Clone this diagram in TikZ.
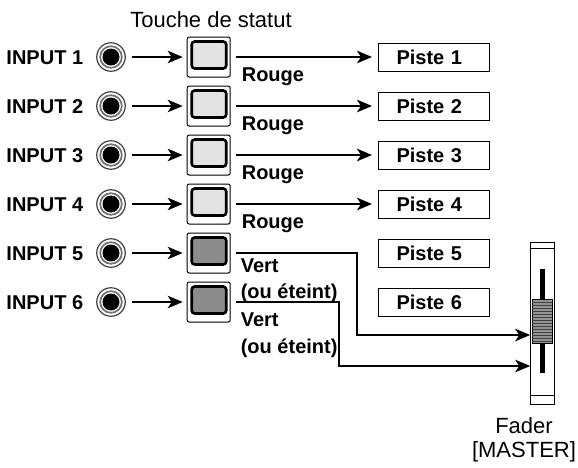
\documentclass[tikz,border=0pt]{standalone}
\usepackage{fontspec}
\setmainfont{Liberation Sans}
\usetikzlibrary{calc,arrows.meta,backgrounds}
\pgfdeclarelayer{foreground}
\pgfsetlayers{main,foreground}
\newcommand{\Lbl}{\bfseries\fontsize{20}{24}\selectfont}
\newcommand{\Txt}{\fontsize{22}{24}\selectfont}
\tikzset{Button/.style={
    rectangle, rounded corners=2pt,
    inner sep=0pt,
    minimum width=43pt,
    minimum height=40pt,
    draw=black, line width=1pt,
    fill=white,
 append after command={% <= the lamp inside
        \pgfextra{%
            \begin{pgfinterruptpath}\begin{pgfonlayer}{foreground}
            \draw[black, line width=2.6pt, rounded corners=3pt, fill=#1]
                ($(\tikzlastnode.north west)+(5pt,-5pt)$) rectangle
                ($(\tikzlastnode.north east)+(-4.5pt,-32pt)$);
            \end{pgfonlayer}\end{pgfinterruptpath}
        }
    }},
    Jack/.style={
    circle, inner sep=0pt,
    minimum size=28.5pt,
    draw=black!75, line width=1.2pt,
    fill=white,
 append after command={%
        \pgfextra{%
            \begin{pgfinterruptpath}\begin{pgfonlayer}{foreground}
            \draw[black!55, line width=1.7pt] (\tikzlastnode.center) circle (10.8pt);
            \fill[black] (\tikzlastnode.center) circle (8.5pt);
            \end{pgfonlayer}\end{pgfinterruptpath}
        }
    }}
}

\begin{document}
\begin{tikzpicture}[x=1pt, y=1pt, line width=1pt,
    sig/.style={line width=1.9pt, -{Stealth[length=15pt,width=12.5pt,inset=4pt]}},
    Piste/.style={rectangle, draw=black, line width=1pt, inner xsep=18.5pt,
        text width=74pt, align=left, minimum height=28pt, font=\Lbl},
    Fader/.style={rectangle, draw=black, line width=1pt, fill=white,
        minimum width=23.6pt, minimum height=161.6pt, inner sep=0pt},
]
\useasboundingbox (0,0) rectangle (578,-467);
\node [anchor=base, font=\Txt] (touche) at (211,-27) {Touche de statut};
% row 1
\pgfmathsetmacro{\row}{57};
\node [anchor=base east, font=\Lbl] (in1) at (87,-\row-7.2) {INPUT 1};
\node [Jack] (jack1) at (111,-\row) {};
\node [Button=black!11] (btn1) at (208.7,-\row) {};
\node [Piste] (piste1) at (433.5,-\row) {Piste 1};
\node [anchor=base west, font=\Lbl] (rouge1) at (238,-\row-24) {Rouge};
% row 2
\pgfmathsetmacro{\row}{106};
\node [anchor=base east, font=\Lbl] (in2) at (87,-\row-7.2) {INPUT 2};
\node [Jack] (jack2) at (111,-\row) {};
\node [Button=black!11] (btn2) at (208.7,-\row) {};
\node [Piste] (piste2) at (433.5,-\row) {Piste 2};
\node [anchor=base west, font=\Lbl] (rouge2) at (238,-\row-24) {Rouge};
% row 3
\pgfmathsetmacro{\row}{155};
\node [anchor=base east, font=\Lbl] (in3) at (87,-\row-7.2) {INPUT 3};
\node [Jack] (jack3) at (111,-\row) {};
\node [Button=black!11] (btn3) at (208.7,-\row) {};
\node [Piste] (piste3) at (433.5,-\row) {Piste 3};
\node [anchor=base west, font=\Lbl] (rouge3) at (238,-\row-24) {Rouge};
% row 4
\pgfmathsetmacro{\row}{204};
\node [anchor=base east, font=\Lbl] (in4) at (87,-\row-7.2) {INPUT 4};
\node [Jack] (jack4) at (111,-\row) {};
\node [Button=black!11] (btn4) at (208.7,-\row) {};
\node [Piste] (piste4) at (433.5,-\row) {Piste 4};
\node [anchor=base west, font=\Lbl] (rouge4) at (238,-\row-24) {Rouge};
% row 5
\pgfmathsetmacro{\row}{253};
\node [anchor=base east, font=\Lbl] (in5) at (87,-\row-7.2) {INPUT 5};
\node [Jack] (jack5) at (111,-\row) {};
\node [Button=black!45] (btn5) at (208.7,-\row) {};
\node [Piste] (piste5) at (433.5,-\row) {Piste 5};
\node [anchor=base west, font=\Lbl] (vert5) at (237,-\row-19) {Vert};
\node [anchor=base west, font=\Lbl] (off5) at (237,-\row-45.5) {(ou éteint)};
% row 6
\pgfmathsetmacro{\row}{302};
\node [anchor=base east, font=\Lbl] (in6) at (87,-\row-7.2) {INPUT 6};
\node [Jack] (jack6) at (111,-\row) {};
\node [Button=black!45] (btn6) at (208.7,-\row) {};
\node [Piste] (piste6) at (433.5,-\row) {Piste 6};
\node [anchor=base west, font=\Lbl] (vert6) at (237,-\row-24.7) {Vert};
\node [anchor=base west, font=\Lbl] (off6) at (237,-\row-51.3) {(ou éteint)};

% fader
\node [Fader] (fader) at (542.5,-323.5) {};
\draw ($(fader.north west)+(0,-5.6)$) -- ($(fader.north east)+(0,-5.6)$);
\draw ($(fader.south west)+(0,9.3)$) -- ($(fader.south east)+(0,9.3)$);
\fill[black] (540,-269) rectangle (545,-373);
\draw[fill=black!42, line width=0.8pt] (532,-299) rectangle (552.7,-343);
\foreach \k in {0,...,13}
    \draw[black!75, line width=0.7pt] (532.4,{-302-3*\k}) -- (552.3,{-302-3*\k});
\node [anchor=north, align=center, font=\Txt, inner sep=0pt] (faderlbl) at (524,-417.5) {Fader\\{}[MASTER]};
\coordinate (ch5) at ($(fader.west)+(0,-11.5)$);
\coordinate (ch6) at ($(fader.west)+(0,-42.5)$);

% connectors
\foreach \i in {1,...,6}
    \draw[sig, shorten <=6pt, shorten >=4pt] (jack\i) -- (btn\i);
\foreach \i in {1,...,4}
    \draw[sig, shorten <=5.5pt, shorten >=5.5pt] (btn\i.east) -- (piste\i.west);
\draw[sig] ($(btn5.east)+(5.5,0)$) -- ++(120.5,0) |- (ch5);
\draw[sig] ($(btn6.east)+(5.5,0)$) -- ++(102.5,0) |- (ch6);
\end{tikzpicture}
\end{document}
